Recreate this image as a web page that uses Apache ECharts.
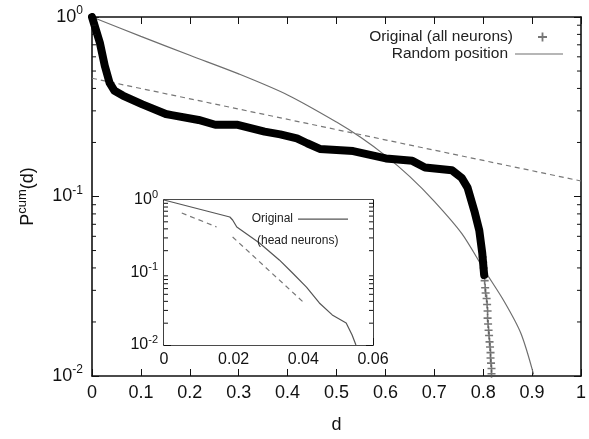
<!DOCTYPE html>
<html>
<head>
<meta charset="utf-8">
<script src="https://cdn.jsdelivr.net/npm/echarts@6/dist/echarts.min.js"></script>
<style>
  html, body { margin: 0; padding: 0; background: #fff; }
  #chart { width: 589px; height: 439px; }
</style>
</head>
<body>
<div id="chart"></div>
<script>
// 主图：原始数据（粗黑带部分）
const origHeadX = [0, 0.016, 0.026, 0.036, 0.046, 0.063, 0.103, 0.151, 0.163, 0.218, 0.252, 0.298, 0.353, 0.385, 0.419, 0.440, 0.466, 0.534, 0.601, 0.655, 0.681, 0.736, 0.756, 0.768, 0.782, 0.792, 0.798, 0.802]
const origHeadY = [1, 0.72, 0.537, 0.429, 0.388, 0.365, 0.326, 0.288, 0.284, 0.267, 0.251, 0.251, 0.230, 0.222, 0.211, 0.198, 0.184, 0.179, 0.163, 0.158, 0.145, 0.140, 0.127, 0.112, 0.083, 0.0647, 0.0486, 0.0365]
// 主图：原始数据尾部（稀疏的 + 号）
const origTailX = [0.799, 0.800, 0.801, 0.802, 0.803, 0.804, 0.805, 0.807, 0.808, 0.809, 0.809, 0.810, 0.811, 0.812, 0.813, 0.814, 0.815, 0.815, 0.816, 0.817, 0.817]
const origTailY = [0.046, 0.043, 0.040, 0.037, 0.034, 0.031, 0.029, 0.027, 0.025, 0.023, 0.021, 0.0195, 0.018, 0.0168, 0.0155, 0.0145, 0.0135, 0.0126, 0.0118, 0.011, 0.0103]
// 主图：随机位置
const randX = [0, 0.1, 0.2, 0.3, 0.4, 0.5, 0.55, 0.6, 0.65, 0.7, 0.756, 0.802, 0.843, 0.877, 0.903]
const randY = [1, 0.78, 0.612, 0.482, 0.368, 0.26, 0.213, 0.169, 0.129, 0.094, 0.0623, 0.039, 0.026, 0.0173, 0.0102]
// 主图：虚线拟合
const fitX = [0, 1]
const fitY = [0.456, 0.122]

// 插图：head neurons
const headX = [0, 0.0189, 0.0197, 0.0209, 0.0274, 0.0331, 0.0369, 0.0409, 0.0446, 0.0483, 0.0523, 0.0540, 0.0551]
const headY = [1, 0.583, 0.530, 0.424, 0.255, 0.149, 0.0984, 0.063, 0.038, 0.026, 0.0201, 0.0137, 0.0100]
const headFit1X = [0.0051, 0.0151]
const headFit1Y = [0.662, 0.425]
const headFit2X = [0.0197, 0.040]
const headFit2Y = [0.309, 0.039]

// 刻度
const mainXTicks = [0, 0.1, 0.2, 0.3, 0.4, 0.5, 0.6, 0.7, 0.8, 0.9, 1]
const insetXTicks = [0, 0.02, 0.04, 0.06]
const minorYTicks = [0.02, 0.03, 0.04, 0.05, 0.06, 0.07, 0.08, 0.09, 0.2, 0.3, 0.4, 0.5, 0.6, 0.7, 0.8, 0.9]

const FONT = 'Liberation Sans'
const PLUS = 'path://M4,0H6V4H10V6H6V10H4V6H0V4H4Z'
const DASH = 'path://M0,0H40V1H0Z'

function pairs(xs, ys) {
  return xs.map((x, i) => [x, ys[i]])
}

function fmtX(v) {
  return String(Math.round(v * 100) / 100)
}

const powRich = {
  b: { fontSize: 18, fontFamily: FONT, color: '#111', lineHeight: 24 },
  s: { fontSize: 12, fontFamily: FONT, color: '#111', lineHeight: 12, verticalAlign: 'top' },
}
const powRichSmall = {
  b: { fontSize: 16, fontFamily: FONT, color: '#111', lineHeight: 22 },
  s: { fontSize: 11, fontFamily: FONT, color: '#111', lineHeight: 11, verticalAlign: 'top' },
}

function powLabel(v) {
  return '{b|10}{s|' + Math.round(Math.log10(v)) + '}'
}

const axisLine = { show: true, onZero: false, lineStyle: { color: '#111', width: 1.6 } }
const tickStyle = { color: '#111', width: 1 }

function xAxisPair(grid, max, interval, fontSize, ticks, withName) {
  const base = {
    gridIndex: grid, type: 'value', min: 0, max: max, interval: interval,
    axisLine: axisLine,
    axisTick: { show: true, inside: true, length: 7, lineStyle: tickStyle },
    splitLine: { show: false },
  }
  return [
    Object.assign({}, base, {
      position: 'bottom',
      axisLabel: {
        fontSize: fontSize, fontFamily: FONT, color: '#111', margin: grid === 0 ? 8 : 7,
        formatter: v => fmtX(v), showMaxLabel: true, hideOverlap: false,
        customValues: ticks,
      },
      name: withName ? 'd' : '',
      nameLocation: 'middle', nameGap: 40,
      nameTextStyle: { fontSize: 18, fontFamily: FONT, color: '#111' },
    }),
    Object.assign({}, base, { position: 'top', axisLabel: { show: false } }),
  ]
}

function yAxisPair(grid, rich, withName) {
  const base = {
    gridIndex: grid, type: 'log', logBase: 10, min: 0.01, max: 1,
    axisLine: axisLine,
    axisTick: { show: true, inside: true, length: 7, lineStyle: tickStyle },
    splitLine: { show: false },
    minorTick: { show: false },
  }
  return [
    Object.assign({}, base, {
      position: 'left',
      axisLabel: { formatter: powLabel, rich: rich, margin: grid === 0 ? 9 : 6 },
      name: withName ? '{b|P}{s|cum}{b|(d)}' : '',
      nameLocation: 'middle', nameRotate: 90, nameGap: 52,
      nameTextStyle: {
        rich: {
          b: { fontSize: 18, fontFamily: FONT, color: '#111', lineHeight: 24 },
          s: { fontSize: 13, fontFamily: FONT, color: '#111', lineHeight: 13, verticalAlign: 'top' },
        },
      },
    }),
    Object.assign({}, base, { position: 'right', axisLabel: { show: false } }),
  ]
}

// 对数轴次刻度（2..9），左右两侧向内
function minorTickSeries(xIdx, yIdx, xMax) {
  return {
    type: 'custom', xAxisIndex: xIdx, yAxisIndex: yIdx, z: 10, silent: true,
    data: minorYTicks.map(v => [0, v]),
    renderItem(params, api) {
      const v = api.value(1)
      const l = api.coord([0, v])
      const r = api.coord([xMax, v])
      const st = { stroke: '#111', lineWidth: 1 }
      return {
        type: 'group',
        children: [
          { type: 'line', shape: { x1: l[0], y1: l[1], x2: l[0] + 4, y2: l[1] }, style: st },
          { type: 'line', shape: { x1: r[0] - 4, y1: r[1], x2: r[0], y2: r[1] }, style: st },
        ],
      }
    },
  }
}

const chart = echarts.init(document.getElementById('chart'), null, { renderer: 'canvas' })

const mainX = xAxisPair(0, 1, 0.1, 18, mainXTicks, true)
const insetX = xAxisPair(1, 0.06, 0.02, 16, insetXTicks, false)
const mainY = yAxisPair(0, powRich, true)
const insetY = yAxisPair(1, powRichSmall, false)

chart.setOption({
  animation: false,
  backgroundColor: '#fff',
  textStyle: { fontFamily: FONT },
  grid: [
    { left: 92, top: 17, width: 496, height: 370, containLabel: false },
    { left: 164, top: 200, width: 209, height: 145, show: true, backgroundColor: '#fff', borderWidth: 0, z: 5 },
  ],
  xAxis: [mainX[0], mainX[1], insetX[0], insetX[1]],
  yAxis: [mainY[0], mainY[1], insetY[0], insetY[1]],
  legend: [
    {
      data: [{ name: 'Original (all neurons)', icon: PLUS }],
      right: 37, top: 24, align: 'right', orient: 'vertical', z: 20,
      itemWidth: 9, itemHeight: 9, selectedMode: false,
      textStyle: { fontSize: 15.5, fontFamily: FONT, color: '#222', padding: [0, 20, 0, 0] },
    },
    {
      data: [{ name: 'Random position', icon: DASH }],
      right: 21, top: 41, align: 'right', orient: 'vertical', z: 20,
      itemWidth: 48, itemHeight: 1.3, selectedMode: false,
      textStyle: { fontSize: 15.5, fontFamily: FONT, color: '#222', padding: [0, 2, 0, 0] },
    },
    {
      data: [{ name: 'Original', icon: DASH }],
      right: 236, top: 208, align: 'right', orient: 'vertical', z: 20,
      itemWidth: 50, itemHeight: 1.3, selectedMode: false,
      textStyle: { fontSize: 12, fontFamily: FONT, color: '#222', padding: [0, 0, 0, 0] },
    },
  ],
  graphic: [
    {
      type: 'text', left: 257, top: 235, z: 20,
      style: { text: '(head neurons)', fontSize: 12, fontFamily: FONT, fill: '#222' },
    },
  ],
  series: [
    {
      name: 'fit', type: 'line', xAxisIndex: 0, yAxisIndex: 0,
      data: pairs(fitX, fitY), symbol: 'none',
      lineStyle: { color: '#777', width: 1.2, type: [5, 4] },
    },
    {
      name: 'Random position', type: 'line', xAxisIndex: 0, yAxisIndex: 0,
      data: pairs(randX, randY), symbol: 'none', smooth: 0.3,
      lineStyle: { color: '#6e6e6e', width: 1.2 },
      itemStyle: { color: '#6e6e6e' },
    },
    {
      name: 'origHead', type: 'line', xAxisIndex: 0, yAxisIndex: 0,
      data: pairs(origHeadX, origHeadY), symbol: 'none',
      lineStyle: { color: '#000', width: 8, cap: 'round', join: 'round' },
    },
    {
      name: 'Original (all neurons)', type: 'scatter', xAxisIndex: 0, yAxisIndex: 0,
      data: pairs(origTailX, origTailY), symbol: PLUS, symbolSize: 8,
      itemStyle: { color: '#555' },
    },
    minorTickSeries(0, 0, 1),
    {
      name: 'Original', type: 'line', xAxisIndex: 2, yAxisIndex: 2, z: 6,
      data: pairs(headX, headY), symbol: 'none',
      lineStyle: { color: '#555', width: 1.2 },
      itemStyle: { color: '#555' },
    },
    {
      name: 'headFit1', type: 'line', xAxisIndex: 2, yAxisIndex: 2, z: 6,
      data: pairs(headFit1X, headFit1Y), symbol: 'none',
      lineStyle: { color: '#777', width: 1.2, type: [5, 4] },
    },
    {
      name: 'headFit2', type: 'line', xAxisIndex: 2, yAxisIndex: 2, z: 6,
      data: pairs(headFit2X, headFit2Y), symbol: 'none',
      lineStyle: { color: '#777', width: 1.2, type: [5, 4] },
    },
    minorTickSeries(2, 2, 0.06),
  ],
})
</script>
</body>
</html>
